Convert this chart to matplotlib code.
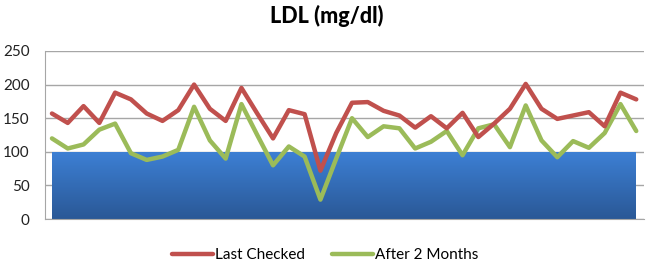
import numpy as np
import matplotlib
matplotlib.use("Agg")
import matplotlib.pyplot as plt
from matplotlib.colors import LinearSegmentedColormap

plt.rcParams['font.family'] = ['Lato', 'DejaVu Sans']

# values (38 patients)
last_checked = [157, 143, 168, 143, 188, 178, 157, 146, 162, 200,
                164, 146, 195, 157, 120, 162, 156, 72, 128, 173,
                174, 161, 154, 136, 153, 135, 158, 122, 142, 164,
                201, 164, 149, 154, 159, 138, 188, 178]
after_2_months = [120, 105, 111, 133, 142, 98, 88, 93, 103, 167,
                  117, 90, 171, 125, 80, 108, 93, 29, 90, 150,
                  122, 138, 135, 105, 115, 131, 95, 135, 141, 107,
                  169, 117, 92, 116, 106, 128, 171, 131]
target = [100] * len(last_checked)
y_ticks = [0, 50, 100, 150, 200, 250]

x = np.arange(len(last_checked))

fig = plt.figure(figsize=(6.5, 2.64), dpi=100)
ax = fig.add_axes([0.069, 0.17, 0.922, 0.637])

# gradient filled target area
poly = ax.fill_between(x, 0, target, facecolor='none', edgecolor='none', zorder=2)
cmap = LinearSegmentedColormap.from_list('blu', ['#2A5896', '#3D80D5'])
grad = np.linspace(0, 1, 256).reshape(-1, 1)
img = ax.imshow(grad, extent=[x[0], x[-1], 0, max(target)], origin='lower',
                cmap=cmap, aspect='auto', zorder=2)
img.set_clip_path(poly.get_paths()[0], transform=ax.transData)

ax.plot(x, last_checked, color='#C0504D', lw=3.2, solid_joinstyle='round',
        solid_capstyle='round', zorder=4, label='Last Checked')
ax.plot(x, after_2_months, color='#9BBB59', lw=3.2, solid_joinstyle='round',
        solid_capstyle='round', zorder=3, label='After 2 Months')

ax.set_xlim(-0.45, len(x) - 0.5)
ax.set_ylim(0, 250)
ax.set_yticks(y_ticks)
ax.set_xticks([])
ax.yaxis.grid(True, color='#A6A6A6', lw=1)
ax.set_axisbelow(True)
for s in ['top', 'right']:
    ax.spines[s].set_visible(False)
for s in ['left', 'bottom']:
    ax.spines[s].set_color('#A6A6A6')
ax.tick_params(axis='y', length=0, pad=11, labelsize=11, labelcolor='#222222')

fig.suptitle('LDL (mg/dl)', x=0.503, y=0.98, fontsize=15.5, fontweight='black')

fig.legend(loc='center', bbox_to_anchor=(0.5, 0.033), ncol=2, frameon=False,
           fontsize=11, handlelength=2.7, handletextpad=0.1, columnspacing=1.8)

fig.savefig('out.png', dpi=100)
